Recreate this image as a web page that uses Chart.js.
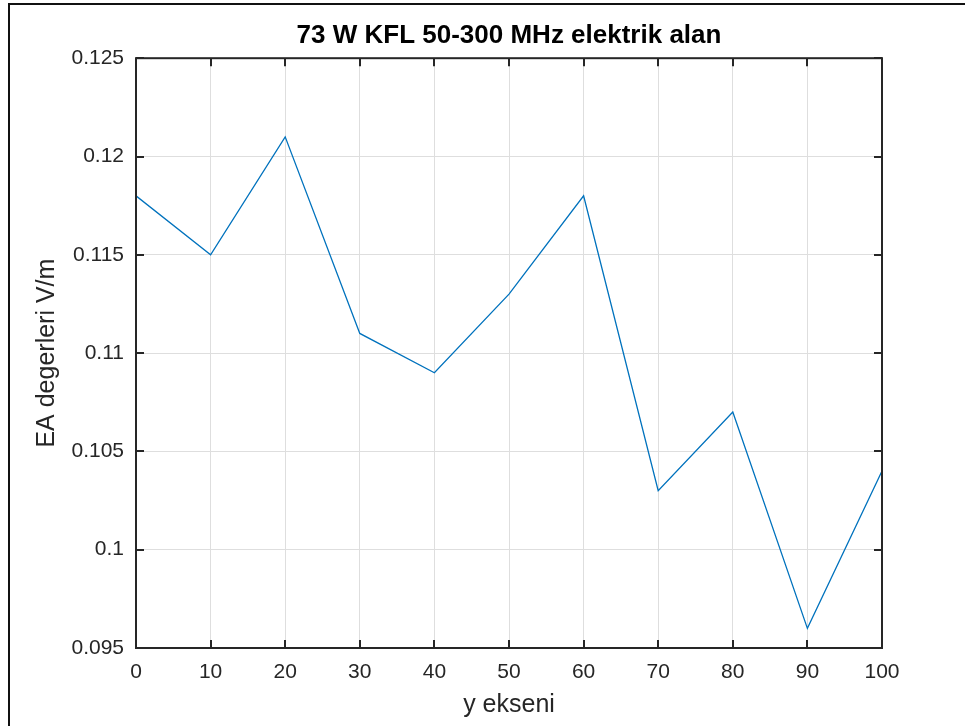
<!DOCTYPE html>
<html>
<head>
<meta charset="utf-8">
<script src="https://cdn.jsdelivr.net/npm/chart.js@4"></script>
<style>
  html, body { margin: 0; padding: 0; background: #ffffff; overflow: hidden; }
  #wrap { position: relative; width: 965px; height: 726px; }
  #frame { position: absolute; left: 8px; top: 3px; width: 980px; height: 740px;
           border-left: 2px solid #111; border-top: 2px solid #111; box-sizing: border-box; }
  #c { position: absolute; left: 0; top: 0; }
</style>
</head>
<body>
<div id="wrap">
  <div id="frame"></div>
  <canvas id="c" width="965" height="726"></canvas>
</div>
<script>
// ---- data ----
const xValues = [0, 10, 20, 30, 40, 50, 60, 70, 80, 90, 100];
const eaValues = [0.118, 0.115, 0.121, 0.111, 0.109, 0.113, 0.118, 0.103, 0.107, 0.096, 0.104];
const xTickLabels = ['0', '10', '20', '30', '40', '50', '60', '70', '80', '90', '100'];
const yTickLabels = ['0.095', '0.1', '0.105', '0.11', '0.115', '0.12', '0.125'];
const titleText = '73 W KFL 50-300 MHz elektrik alan';
const xTitle = 'y ekseni';
const yTitle = 'EA degerleri V/m';

const axisColor = '#262626';
const fontFam = 'Arial, "Liberation Sans", Helvetica, sans-serif';

const boxPlugin = {
  id: 'matlabBox',
  afterLayout(chart) {
    // centre the title over the axes, as MATLAB does
    if (chart.titleBlock) {
      chart.titleBlock.left = chart.chartArea.left;
      chart.titleBlock.right = chart.chartArea.right;
    }
  },
  afterDraw(chart) {
    const { ctx, chartArea: a, scales } = chart;
    const tl = 8;
    ctx.save();
    ctx.strokeStyle = axisColor;
    ctx.lineWidth = 2;
    ctx.beginPath();
    scales.x.ticks.forEach(t => {
      const px = Math.round(scales.x.getPixelForValue(t.value));
      ctx.moveTo(px, a.bottom); ctx.lineTo(px, a.bottom - tl);
      ctx.moveTo(px, a.top); ctx.lineTo(px, a.top + tl);
    });
    scales.y.ticks.forEach(t => {
      const py = Math.round(scales.y.getPixelForValue(t.value));
      ctx.moveTo(a.left, py); ctx.lineTo(a.left + tl, py);
      ctx.moveTo(a.right, py); ctx.lineTo(a.right - tl, py);
    });
    ctx.stroke();
    ctx.strokeRect(a.left, a.top, a.right - a.left, a.bottom - a.top);
    ctx.restore();
  }
};

new Chart(document.getElementById('c'), {
  type: 'line',
  data: {
    datasets: [{
      data: xValues.map((x, i) => ({ x: x, y: eaValues[i] })),
      borderColor: '#0072BD',
      borderWidth: 1.3,
      pointRadius: 0,
      tension: 0,
      fill: false
    }]
  },
  options: {
    responsive: false,
    devicePixelRatio: 1,
    animation: false,
    layout: { padding: { left: 0, right: 83, top: 0, bottom: 0 } },
    plugins: {
      legend: { display: false },
      tooltip: { enabled: false },
      title: {
        display: true,
        text: titleText,
        color: '#000',
        font: { family: fontFam, size: 26, weight: 'bold' },
        padding: { top: 20, bottom: 7 }
      }
    },
    scales: {
      x: {
        type: 'linear',
        min: 0, max: 100,
        afterFit(s) { s.height = 78; },
        ticks: {
          stepSize: 10,
          color: axisColor,
          padding: 12,
          maxRotation: 0,
          font: { family: fontFam, size: 21 },
          callback: (v, i) => xTickLabels[i]
        },
        grid: { color: '#dedede', lineWidth: 1, drawTicks: false },
        border: { display: false },
        title: {
          display: true, text: xTitle, color: axisColor,
          font: { family: fontFam, size: 25 },
          padding: { top: 0, bottom: 6 }
        }
      },
      y: {
        type: 'linear',
        min: 0.095, max: 0.125,
        afterFit(s) { s.width = 136; },
        ticks: {
          stepSize: 0.005,
          color: axisColor,
          padding: 12,
          font: { family: fontFam, size: 21 },
          callback: (v, i) => yTickLabels[i]
        },
        grid: { color: '#dedede', lineWidth: 1, drawTicks: false },
        border: { display: false },
        title: {
          display: true, text: yTitle, color: axisColor,
          font: { family: fontFam, size: 25 },
          padding: { top: 32, bottom: 0 }
        }
      }
    }
  },
  plugins: [boxPlugin]
});
</script>
</body>
</html>
